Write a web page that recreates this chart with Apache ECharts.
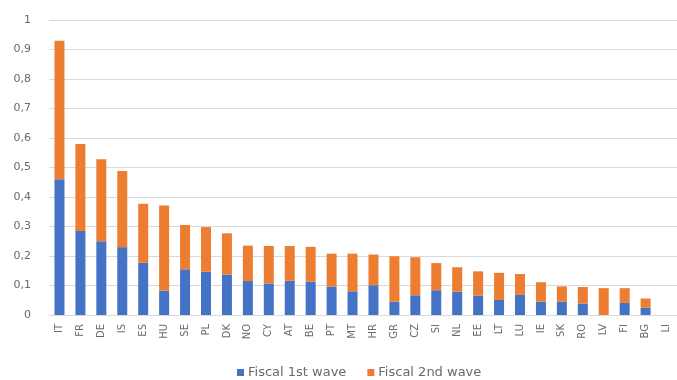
<!DOCTYPE html>
<html>
<head>
<meta charset="utf-8">
<script src="https://cdn.jsdelivr.net/npm/echarts@6/dist/echarts.min.js"></script>
<style>
  html, body { margin: 0; padding: 0; background: #ffffff; }
  #chart { width: 677px; height: 380px; }
</style>
</head>
<body>
<div id="chart"></div>
<script>
// Country codes along the x axis
const countries = ['IT','FR','DE','IS','ES','HU','SE','PL','DK','NO','CY','AT','BE','PT','MT','HR','GR','CZ','SI','NL','EE','LT','LU','IE','SK','RO','LV','FI','BG','LI'];

// Fiscal support, first wave
const firstWave = [0.46,0.285,0.25,0.23,0.177,0.083,0.155,0.147,0.137,0.115,0.107,0.116,0.113,0.097,0.080,0.101,0.045,0.067,0.084,0.079,0.066,0.051,0.068,0.045,0.045,0.039,0.0,0.041,0.025,0.0];

// Fiscal support, second wave (stacked on top of the first)
const secondWave = [0.47,0.295,0.278,0.258,0.2,0.288,0.15,0.151,0.14,0.12,0.127,0.118,0.118,0.111,0.128,0.104,0.154,0.129,0.092,0.083,0.082,0.092,0.071,0.066,0.052,0.056,0.091,0.05,0.031,0.0];

// Value-axis tick values
const yTicks = [0, 0.1, 0.2, 0.3, 0.4, 0.5, 0.6, 0.7, 0.8, 0.9, 1];

const textColor = '#6a6a6a';
const font = 'DejaVu Sans';

const chart = echarts.init(document.getElementById('chart'), null, { renderer: 'canvas' });

chart.setOption({
  animation: false,
  backgroundColor: '#ffffff',
  grid: { left: 49, top: 20, width: 639, height: 295, containLabel: false },
  legend: {
    top: 361,
    left: 232,
    itemWidth: 7,
    itemHeight: 7,
    itemGap: 21,
    icon: 'rect',
    textStyle: { color: textColor, fontSize: 13, fontFamily: font, padding: [0, 0, 0, -1] },
    data: ['Fiscal 1st wave', 'Fiscal 2nd wave']
  },
  xAxis: {
    type: 'category',
    data: countries,
    axisLine: { lineStyle: { color: '#d9d9d9', width: 1 } },
    axisTick: { show: false },
    axisLabel: {
      rotate: 90,
      interval: 0,
      color: textColor,
      fontSize: 10,
      fontFamily: font,
      margin: 9
    }
  },
  yAxis: {
    type: 'value',
    min: yTicks[0],
    max: yTicks[yTicks.length - 1],
    interval: 0.1,
    axisLine: { show: false },
    axisTick: { show: false },
    splitLine: { lineStyle: { color: '#d9d9d9', width: 1 } },
    axisLabel: {
      color: textColor,
      fontSize: 11,
      fontFamily: font,
      margin: 18,
      formatter: function (v) {
        const r = Math.round(v * 10) / 10;
        return String(r).replace('.', ',');
      }
    }
  },
  series: [
    {
      name: 'Fiscal 1st wave',
      type: 'bar',
      stack: 'fiscal',
      barWidth: 10,
      itemStyle: { color: '#4472c4' },
      data: firstWave
    },
    {
      name: 'Fiscal 2nd wave',
      type: 'bar',
      stack: 'fiscal',
      barWidth: 10,
      itemStyle: { color: '#ed7d31' },
      data: secondWave
    }
  ]
});
</script>
</body>
</html>
